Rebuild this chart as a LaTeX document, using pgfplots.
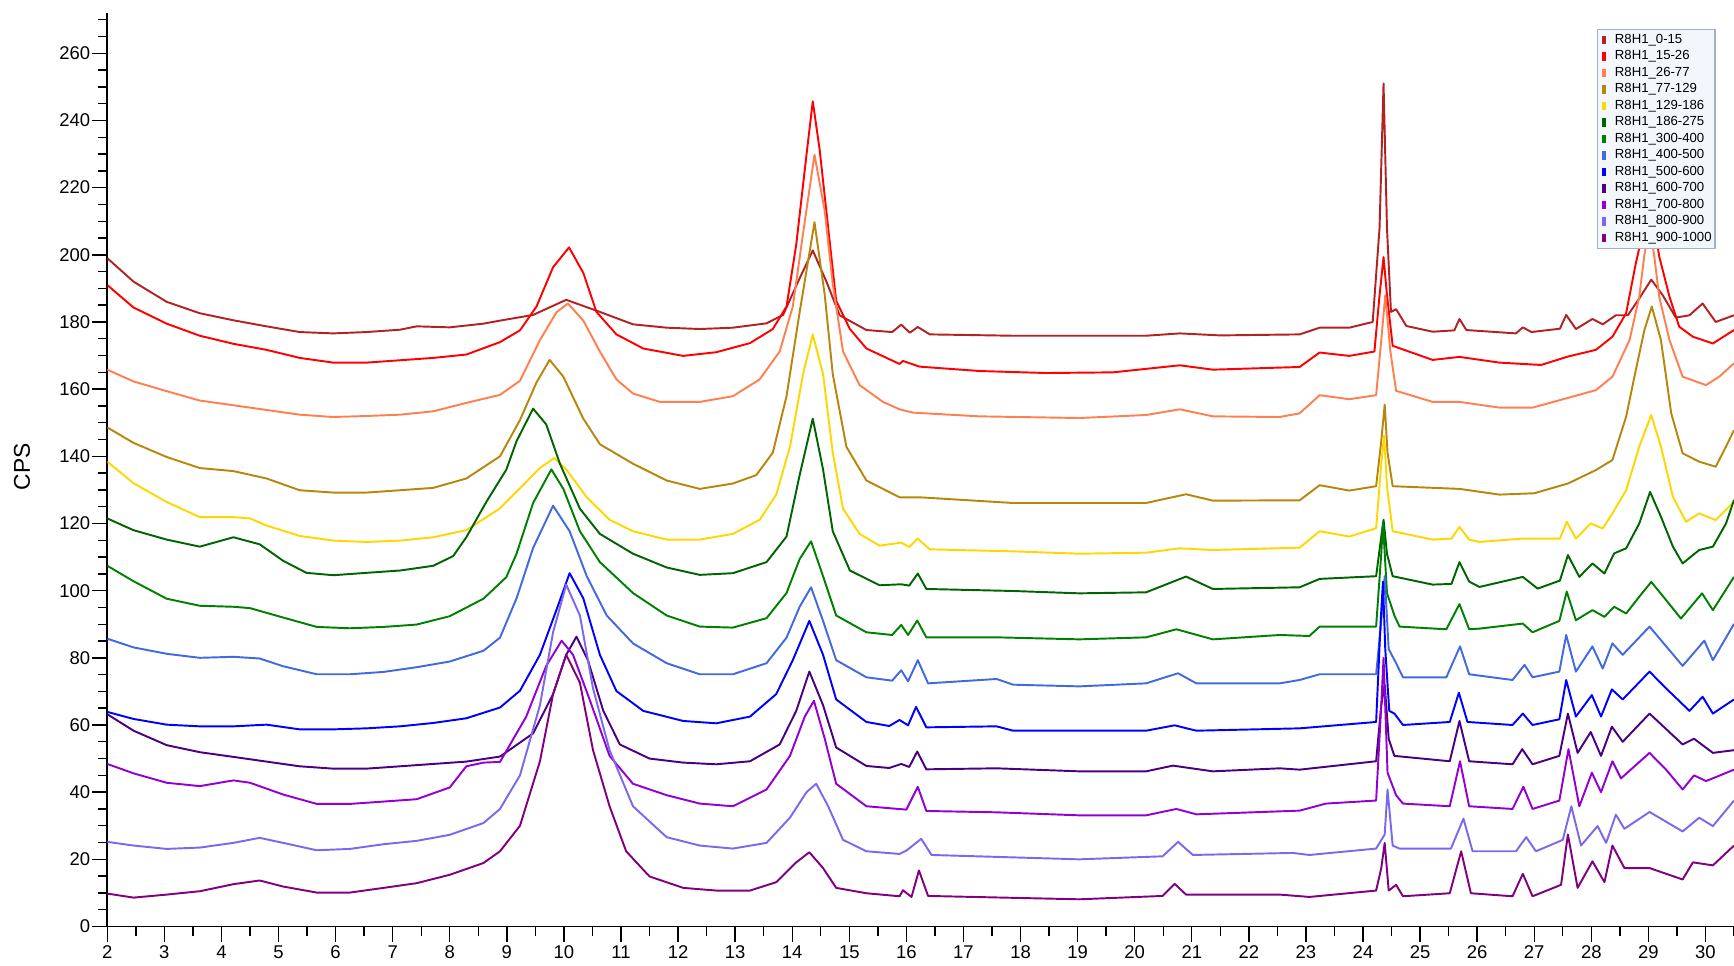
\documentclass[border=0pt]{standalone}
\usepackage{fontspec}
\setmainfont{Liberation Sans}
\usepackage{pgfplots}
\pgfplotsset{compat=1.18}
\usetikzlibrary{calc}

\definecolor{cA}{HTML}{B22222}
\definecolor{cB}{HTML}{FF0000}
\definecolor{cC}{HTML}{FF7F50}
\definecolor{cD}{HTML}{B8860B}
\definecolor{cE}{HTML}{FFD700}
\definecolor{cF}{HTML}{006400}
\definecolor{cG}{HTML}{008000}
\definecolor{cH}{HTML}{4169E1}
\definecolor{cI}{HTML}{0000FF}
\definecolor{cJ}{HTML}{4B0082}
\definecolor{cK}{HTML}{9400D3}
\definecolor{cL}{HTML}{7B68EE}
\definecolor{cM}{HTML}{800080}
\definecolor{legfill}{HTML}{F3F6FA}
\definecolor{legdraw}{HTML}{A3B1C8}

\begin{document}
\begin{tikzpicture}
\begin{axis}[
    scale only axis,
    width=325.34mm, height=182.7mm,
    xmin=2, xmax=30.5, ymin=0, ymax=272,
    enlargelimits=false,
    axis lines*=left,
    axis line style={-, line width=1pt, black},
    tick align=outside,
    major tick length=3mm, minor tick length=1.9mm,
    tick style={line width=0.8pt, black},
    xtick={2,3,...,30}, minor xtick={2.5,3.5,...,30.5},
    ytick={0,20,...,260}, minor ytick={0,5,...,270},
    /pgf/number format/assume math mode=true,
    ticklabel style={font=\fontsize{10.5}{12}\selectfont, inner sep=1pt},
    xticklabel style={yshift=-0.4mm},
    ylabel={CPS},
    every axis y label/.style={at={(rel axis cs:0,0.503)}, xshift=-17.06mm, rotate=90, anchor=center, font=\fontsize{13}{15}\selectfont},
    legend cell align=left,
    legend image code/.code={\path[draw=none,fill=none] (0,0) rectangle (2.8mm,0.1mm); \fill[draw=none] (0.5mm,-0.85mm) rectangle (1.3mm,0.85mm);},
    legend style={at={(0.9158,0.9825)}, anchor=north west, fill=legfill, draw=legdraw, line width=0.6pt,
        font=\fontsize{7.5}{8}\selectfont, inner xsep=1pt, inner ysep=1.2pt, row sep=0.1pt,
        nodes={inner sep=0.9pt, text height=5.6pt, text depth=1.9pt}},
    every axis plot/.append style={line width=1.1pt, line join=round},
]
\coordinate (O) at (rel axis cs:0,0);

\addplot[cA] coordinates {
(2.0,199) (2.46,192) (3.04,186) (3.62,182.6) (4.21,180.5) (4.79,178.7) (5.37,177) (5.96,176.6) (6.54,177) (7.13,177.7) (7.42,178.7) (8.0,178.4) (8.59,179.5) (8.88,180.4) (9.46,182.1) (10.04,186.6) (10.63,183) (11.21,179.3) (11.8,178.3) (12.38,177.9) (12.96,178.3) (13.55,179.6) (13.84,182.1) (14.13,193) (14.36,201.3) (14.6,192) (14.83,182) (15.3,177.6) (15.75,177) (15.91,179.2) (16.06,176.8) (16.2,178.5) (16.41,176.3) (17.87,175.9) (20.2,175.9) (20.79,176.6) (21.5,176) (22.89,176.3) (23.24,178.3) (23.76,178.3) (24.17,180) (24.29,208) (24.36,251) (24.42,208) (24.49,183) (24.58,183.8) (24.76,178.8) (25.22,177.1) (25.6,177.5) (25.69,180.9) (25.81,177.6) (26.68,176.6) (26.8,178.4) (26.95,177) (27.45,178) (27.56,182.1) (27.73,177.9) (28.02,180.9) (28.2,179.3) (28.43,182) (28.64,182) (28.84,187) (29.05,192.6) (29.25,188) (29.48,181.3) (29.72,182) (29.95,185.5) (30.18,180) (30.5,182)
};
\addlegendentry{R8H1\_0-15}

\addplot[cB] coordinates {
(2.0,191) (2.46,184.3) (3.04,179.5) (3.62,175.9) (4.21,173.5) (4.79,171.7) (5.37,169.3) (5.96,167.9) (6.54,167.9) (7.13,168.6) (7.71,169.3) (8.29,170.3) (8.88,174) (9.23,177.5) (9.52,184.6) (9.81,196.3) (10.09,202.2) (10.34,194.6) (10.57,183) (10.92,176.3) (11.39,172.1) (12.09,169.9) (12.67,171) (13.26,173.7) (13.66,177.9) (13.9,184.6) (14.07,203) (14.25,229.8) (14.36,245.7) (14.48,231.4) (14.63,208) (14.77,186.3) (15.01,177.9) (15.3,172.1) (15.88,167.5) (15.94,168.4) (16.23,166.7) (17.28,165.4) (18.45,164.8) (19.62,165) (20.79,167.1) (21.37,165.8) (22.89,166.6) (23.24,170.9) (23.76,169.9) (24.2,171.2) (24.29,188) (24.36,199.3) (24.42,188) (24.52,172.9) (25.22,168.7) (25.69,169.6) (26.39,167.9) (27.12,167.2) (27.59,169.7) (28.08,171.7) (28.37,175.6) (28.61,182.6) (28.78,197.5) (28.92,208) (29.02,213) (29.1,209) (29.19,199.5) (29.37,187.5) (29.54,178.6) (29.78,175.6) (30.13,173.6) (30.5,177.6)
};
\addlegendentry{R8H1\_15-26}

\addplot[cC] coordinates {
(2.0,165.8) (2.46,162.3) (3.04,159.4) (3.62,156.6) (4.21,155.2) (4.79,153.8) (5.37,152.4) (5.96,151.7) (6.54,152) (7.13,152.4) (7.71,153.4) (8.29,155.9) (8.88,158.3) (9.23,162.5) (9.58,174.6) (9.87,182.9) (10.07,185.5) (10.34,180.4) (10.63,171.2) (10.92,162.9) (11.21,158.7) (11.68,156.2) (12.38,156.2) (12.96,157.9) (13.43,162.9) (13.78,171.2) (14.01,184.6) (14.19,206.4) (14.39,229.8) (14.57,213) (14.71,191.3) (14.89,171.2) (15.18,161.2) (15.59,156.2) (15.88,154) (16.12,153) (17.28,151.9) (19.03,151.4) (20.2,152.3) (20.79,154) (21.37,151.9) (22.54,151.7) (22.89,152.8) (23.24,158.2) (23.76,157) (24.23,158.2) (24.32,174.6) (24.39,188) (24.48,171.2) (24.58,159.5) (25.22,156.2) (25.69,156.2) (26.39,154.5) (26.97,154.5) (27.57,157.3) (28.08,159.7) (28.37,163.7) (28.67,174.6) (28.84,187.5) (28.93,200) (29.02,208) (29.1,200) (29.19,187.5) (29.37,174.6) (29.6,163.7) (30.01,161.2) (30.24,163.7) (30.5,167.7)
};
\addlegendentry{R8H1\_26-77}

\addplot[cD] coordinates {
(2.0,148.6) (2.46,144) (3.04,139.8) (3.62,136.5) (4.21,135.6) (4.79,133.4) (5.37,129.9) (5.96,129.2) (6.54,129.2) (7.13,129.9) (7.71,130.6) (8.29,133.4) (8.88,140) (9.23,150.8) (9.52,162) (9.75,168.7) (9.99,163.7) (10.34,151.2) (10.63,143.6) (11.21,137.8) (11.8,132.8) (12.38,130.3) (12.96,131.9) (13.37,134.4) (13.66,141.1) (13.9,157.9) (14.13,182.9) (14.39,209.7) (14.57,188) (14.71,164.5) (14.95,142.8) (15.3,132.8) (15.88,127.8) (16.23,127.8) (17.87,126.1) (20.2,126.1) (20.9,128.7) (21.37,126.8) (22.89,126.9) (23.24,131.4) (23.76,129.8) (24.23,131.1) (24.32,144.5) (24.38,155.4) (24.43,141.1) (24.52,131.1) (25.69,130.3) (26.39,128.6) (27.0,129) (27.59,131.9) (28.08,135.9) (28.37,138.9) (28.61,151.8) (28.78,165.7) (28.93,177.6) (29.06,184.6) (29.22,174.6) (29.4,152.8) (29.6,140.9) (29.89,138.4) (30.18,136.9) (30.36,142.9) (30.5,147.8)
};
\addlegendentry{R8H1\_77-129}

\addplot[cE] coordinates {
(2.0,138.4) (2.46,132) (3.04,126.4) (3.62,121.9) (4.21,121.9) (4.5,121.5) (4.79,119.4) (5.37,116.3) (5.96,114.9) (6.54,114.5) (7.13,114.9) (7.71,115.9) (8.29,118) (8.88,124.5) (9.23,130.5) (9.58,136.5) (9.83,139.5) (10.04,136.1) (10.4,127.8) (10.8,121.1) (11.21,117.7) (11.8,115.2) (12.38,115.2) (12.96,116.9) (13.43,121.1) (13.72,128.6) (13.96,142.8) (14.19,164.5) (14.36,176.3) (14.54,164.5) (14.71,141.1) (14.89,124.4) (15.18,116.9) (15.53,113.4) (15.91,114.3) (16.05,113) (16.2,115.5) (16.41,112.3) (17.87,111.7) (19.03,111) (20.2,111.3) (20.79,112.6) (21.37,112.1) (22.89,112.8) (23.24,117.7) (23.76,116.1) (24.23,118.6) (24.32,137.8) (24.37,146.2) (24.42,131.1) (24.52,117.7) (25.22,115.2) (25.55,115.5) (25.69,119) (25.86,115.2) (26.04,114.5) (26.8,115.5) (27.45,115.5) (27.57,120.5) (27.73,115.5) (27.99,120) (28.2,118.5) (28.37,123) (28.61,129.9) (28.84,142.9) (29.05,152.3) (29.22,142.9) (29.43,127.9) (29.66,120.5) (29.89,123) (30.18,121) (30.5,126.5)
};
\addlegendentry{R8H1\_129-186}

\addplot[cF] coordinates {
(2.0,121.5) (2.46,118) (3.04,115.2) (3.62,113.1) (4.21,115.9) (4.67,113.8) (5.08,108.9) (5.49,105.3) (5.96,104.6) (6.54,105.3) (7.13,106) (7.71,107.4) (8.06,110.3) (8.29,115.9) (8.64,126.4) (8.99,136) (9.17,144.5) (9.46,154.2) (9.69,149.5) (9.93,137.8) (10.28,124.4) (10.63,116.9) (11.21,111) (11.8,106.9) (12.38,104.7) (12.96,105.2) (13.55,108.5) (13.9,116.1) (14.13,134.4) (14.36,151.2) (14.54,136.1) (14.71,117.7) (15.01,106) (15.53,101.6) (15.91,101.9) (16.05,101.5) (16.2,105.1) (16.35,100.5) (17.87,99.9) (19.03,99.2) (20.2,99.5) (20.9,104.2) (21.37,100.5) (22.89,101) (23.24,103.5) (24.23,104.3) (24.32,116.1) (24.36,121.1) (24.42,111) (24.52,104.3) (25.22,101.8) (25.55,102) (25.69,108.5) (25.86,102.7) (26.04,101.1) (26.8,104.1) (27.06,100.6) (27.45,103) (27.59,110.6) (27.79,104.1) (28.02,108.1) (28.23,105.1) (28.4,111.1) (28.61,112.6) (28.84,120) (29.03,129.4) (29.22,122) (29.43,113.1) (29.6,108.1) (29.89,112.1) (30.13,113.1) (30.36,120) (30.5,127)
};
\addlegendentry{R8H1\_186-275}

\addplot[cG] coordinates {
(2.0,107.4) (2.46,102.8) (3.04,97.6) (3.62,95.5) (4.21,95.2) (4.5,94.8) (5.08,92) (5.67,89.2) (6.25,88.8) (6.84,89.2) (7.42,89.9) (8.0,92.4) (8.59,97.6) (8.99,104) (9.17,111) (9.46,126.1) (9.78,136.1) (9.99,130.3) (10.28,117.7) (10.63,108.5) (11.21,99.3) (11.8,92.6) (12.38,89.3) (12.96,89) (13.55,91.8) (13.9,99.3) (14.13,109.4) (14.33,114.7) (14.54,104.3) (14.77,92.6) (15.3,87.6) (15.75,86.8) (15.91,89.8) (16.03,86.8) (16.19,91.1) (16.35,86.1) (17.58,86.1) (19.03,85.5) (20.2,86.1) (20.73,88.5) (21.37,85.5) (22.54,86.8) (23.06,86.5) (23.24,89.3) (24.23,89.3) (24.32,111) (24.35,120.2) (24.42,99.3) (24.55,92.6) (24.64,89.3) (25.46,88.5) (25.69,96) (25.86,88.5) (26.04,88.7) (26.8,90.2) (26.97,87.6) (27.44,91) (27.57,99.7) (27.73,91.2) (28.02,94.2) (28.23,92.2) (28.4,95.2) (28.61,93.2) (28.84,98.2) (29.05,102.6) (29.31,97.2) (29.57,91.7) (29.94,99.2) (30.13,94.2) (30.5,104.1)
};
\addlegendentry{R8H1\_300-400}

\addplot[cH] coordinates {
(2.0,85.7) (2.46,83.1) (3.04,81.2) (3.62,80) (4.21,80.3) (4.67,79.8) (5.08,77.5) (5.67,75.1) (6.25,75.1) (6.84,75.8) (7.42,77.2) (8.0,78.9) (8.59,82.1) (8.88,86) (9.17,97.7) (9.46,112.7) (9.81,125.3) (10.1,117.7) (10.4,104.3) (10.75,92.6) (11.21,84.3) (11.8,78.4) (12.38,75.1) (12.96,75.1) (13.55,78.4) (13.9,86) (14.13,95.2) (14.33,101) (14.54,91) (14.77,79.3) (15.3,74.2) (15.75,73.2) (15.91,76.3) (16.03,73) (16.2,79.3) (16.38,72.4) (17.58,73.7) (17.87,72) (19.03,71.5) (20.2,72.4) (20.76,75.4) (21.08,72.4) (22.54,72.4) (22.89,73.4) (23.24,75.1) (24.23,75.1) (24.32,91) (24.38,104.3) (24.45,82.6) (24.58,78.4) (24.7,74.2) (25.46,74.2) (25.7,83.4) (25.86,75.1) (26.62,73.4) (26.83,77.9) (26.97,74.2) (27.44,75.9) (27.56,86.8) (27.73,75.9) (28.02,83.4) (28.2,76.8) (28.37,84.3) (28.55,80.9) (29.02,89.3) (29.6,77.6) (29.98,85.1) (30.13,79.3) (30.5,90.1)
};
\addlegendentry{R8H1\_400-500}

\addplot[cI] coordinates {
(2.0,63.9) (2.46,61.8) (3.04,60.1) (3.62,59.6) (4.21,59.6) (4.79,60.1) (5.37,58.7) (5.96,58.7) (6.54,59) (7.13,59.6) (7.71,60.6) (8.29,62) (8.88,65.2) (9.23,70.2) (9.58,80.9) (9.87,94.3) (10.1,105.2) (10.34,97.7) (10.63,80.9) (10.92,70.1) (11.39,64.2) (12.09,61.2) (12.67,60.5) (13.26,62.5) (13.72,69.2) (14.01,79.3) (14.3,91) (14.54,80.9) (14.77,67.6) (15.3,60.9) (15.7,59.7) (15.88,61.5) (16.03,59.9) (16.17,65.4) (16.35,59.3) (17.58,59.6) (17.87,58.3) (19.03,58.3) (20.2,58.3) (20.7,59.9) (21.08,58.3) (22.89,59) (24.23,60.9) (24.31,91) (24.35,102.7) (24.39,82.6) (24.46,64.2) (24.55,63.4) (24.7,60) (25.52,60.9) (25.68,69.6) (25.83,60.9) (26.62,60) (26.8,63.4) (26.97,60) (27.44,61.7) (27.56,73.4) (27.73,62.5) (28.01,68.9) (28.17,62.5) (28.36,70.6) (28.55,67.6) (29.02,75.9) (29.31,70.9) (29.72,64.2) (29.95,68.4) (30.13,63.4) (30.5,67.6)
};
\addlegendentry{R8H1\_500-600}

\addplot[cJ] coordinates {
(2.0,63.2) (2.46,58.3) (3.04,54) (3.62,51.9) (4.21,50.5) (4.79,49.1) (5.37,47.7) (5.96,47) (6.54,47) (7.13,47.7) (7.71,48.4) (8.29,49.1) (8.88,50.6) (9.46,57.5) (9.81,69.2) (10.04,80.9) (10.22,86.3) (10.42,79.3) (10.69,64.2) (10.98,54.2) (11.5,50) (12.09,48.8) (12.67,48.3) (13.26,49.2) (13.78,54.2) (14.07,64.2) (14.3,75.9) (14.54,65.9) (14.77,53.3) (15.3,47.8) (15.7,47.2) (15.91,48.4) (16.05,47.5) (16.19,52.1) (16.35,46.8) (17.58,47.1) (19.03,46.2) (20.2,46.2) (20.67,47.9) (21.37,46.2) (22.54,47.1) (22.89,46.7) (24.23,49.2) (24.32,65.9) (24.38,72) (24.45,55.9) (24.55,50.8) (25.52,49.2) (25.69,61.2) (25.86,49.2) (26.62,48.3) (26.79,52.8) (26.97,48.3) (27.44,50.8) (27.59,63.4) (27.76,51.7) (27.99,57.9) (28.17,50.8) (28.36,59.5) (28.55,55) (29.02,63.4) (29.6,54.2) (29.8,55.9) (30.13,51.7) (30.5,52.5)
};
\addlegendentry{R8H1\_600-700}

\addplot[cK] coordinates {
(2.0,48.4) (2.46,45.6) (3.04,42.8) (3.62,41.8) (4.21,43.5) (4.5,42.8) (5.08,39.3) (5.67,36.5) (6.25,36.5) (6.84,37.2) (7.42,37.9) (8.0,41.4) (8.29,47.7) (8.59,48.8) (8.88,49) (9.34,62.5) (9.69,77.6) (9.96,85.1) (10.16,80.9) (10.45,67.6) (10.8,50.8) (11.21,42.5) (11.8,39.1) (12.38,36.6) (12.96,35.8) (13.55,40.8) (13.96,50.8) (14.22,62.5) (14.38,67.2) (14.57,55.9) (14.77,42.5) (15.3,35.8) (16.0,34.8) (16.2,41.6) (16.35,34.4) (17.58,34) (19.03,33.1) (20.2,33.1) (20.73,35) (21.08,33.4) (22.89,34.5) (23.35,36.6) (24.23,37.5) (24.32,65.9) (24.36,80) (24.43,45.8) (24.58,39.1) (24.7,36.6) (25.52,35.8) (25.7,49.2) (25.86,35.8) (26.62,35) (26.81,41.6) (26.97,35) (27.44,37.5) (27.6,52.8) (27.79,35.8) (28.01,45.8) (28.17,40) (28.37,49.2) (28.52,44.1) (29.02,51.7) (29.31,46.7) (29.6,40.8) (29.8,45) (30.01,43.3) (30.5,46.7)
};
\addlegendentry{R8H1\_700-800}

\addplot[cL] coordinates {
(2.0,25.2) (2.46,24.1) (3.04,23.1) (3.62,23.5) (4.21,24.9) (4.67,26.4) (5.08,24.9) (5.67,22.7) (6.25,23.1) (6.84,24.5) (7.42,25.5) (8.0,27.3) (8.59,30.8) (8.88,35) (9.23,45) (9.58,65.9) (9.81,87.6) (10.04,101.8) (10.28,92.6) (10.51,70.9) (10.8,52.5) (11.21,35.8) (11.8,26.6) (12.38,24.1) (12.96,23.2) (13.55,24.9) (13.96,32.4) (14.25,40) (14.42,42.5) (14.63,35.8) (14.89,25.8) (15.3,22.4) (15.88,21.6) (16.0,22.6) (16.26,26.1) (16.44,21.3) (19.03,20) (20.49,20.9) (20.76,25.2) (21.02,21.3) (22.77,21.9) (23.06,21.3) (24.23,23.2) (24.38,27.4) (24.43,40.8) (24.52,24.1) (24.64,23.2) (25.54,23.2) (25.76,32.1) (25.92,22.4) (26.68,22.4) (26.86,26.6) (27.03,22.4) (27.5,25.8) (27.65,35.8) (27.82,24.1) (28.11,29.9) (28.26,24.9) (28.43,33.3) (28.58,29.1) (29.02,34.1) (29.6,28.3) (29.89,32.4) (30.13,29.9) (30.5,37.5)
};
\addlegendentry{R8H1\_800-900}

\addplot[cM] coordinates {
(2.0,9.8) (2.46,8.6) (3.04,9.5) (3.62,10.5) (4.21,12.6) (4.67,13.7) (5.08,11.9) (5.67,10.1) (6.25,10.1) (6.84,11.5) (7.42,12.9) (8.0,15.4) (8.59,18.9) (8.88,22.4) (9.23,30) (9.58,49.2) (9.81,69.2) (10.04,80.9) (10.28,72.6) (10.51,52.5) (10.8,35.8) (11.09,22.4) (11.5,14.9) (12.09,11.5) (12.67,10.7) (13.26,10.7) (13.72,13.2) (14.07,19.1) (14.3,22.1) (14.54,17.4) (14.77,11.5) (15.3,9.9) (15.88,9) (15.94,10.8) (16.09,8.8) (16.22,16.7) (16.38,9.1) (19.03,8.1) (20.49,9.1) (20.7,12.7) (20.9,9.5) (22.54,9.5) (23.06,8.8) (24.23,10.7) (24.32,17.4) (24.38,24.9) (24.45,10.7) (24.58,12.4) (24.7,9) (25.52,9.9) (25.72,22.4) (25.89,9.9) (26.62,9) (26.8,15.7) (26.97,9) (27.47,12.4) (27.59,27.4) (27.76,11.5) (28.02,19.4) (28.23,13.2) (28.37,24.1) (28.58,17.4) (29.02,17.4) (29.6,14) (29.78,19.1) (30.13,18.2) (30.5,24.1)
};
\addlegendentry{R8H1\_900-1000}

\end{axis}
\pgfresetboundingbox
\path[use as bounding box] ($(O)+(-21.46mm,-7.7mm)$) rectangle ($(O)+(325.34mm,185.3mm)$);
\end{tikzpicture}
\end{document}
